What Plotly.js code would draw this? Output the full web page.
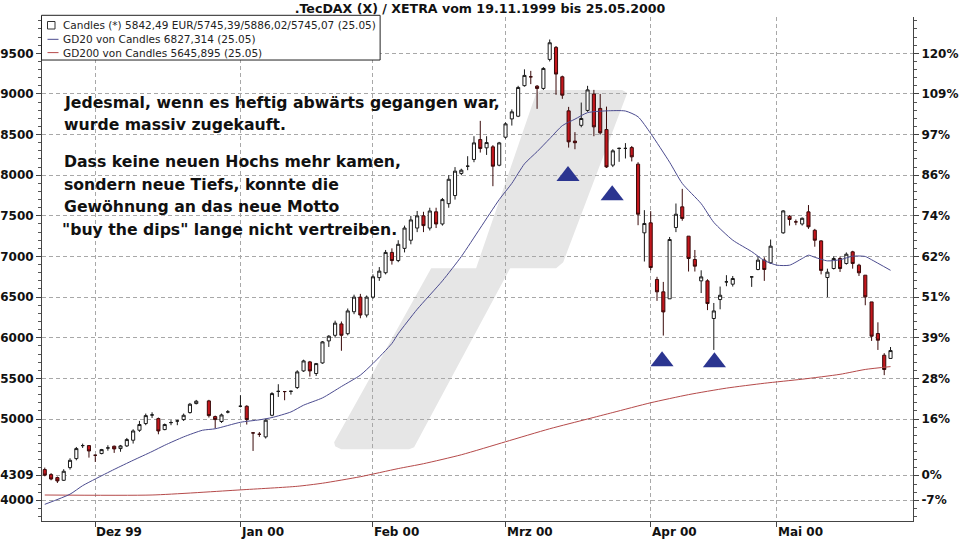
<!DOCTYPE html>
<html>
<head>
<meta charset="utf-8">
<script src="https://cdn.plot.ly/plotly-3.0.1.min.js"></script>
<style>html,body{margin:0;padding:0;background:#fff;}#chart{width:960px;height:540px;}</style>
</head>
<body>
<div id="chart"></div>
<script>
// ---- data (trading-day index 0 = 19.11.1999, weekdays only; null = no trading) ----
const openV = [4378,4316,4279,4246,4402,4513,4673,4673,4554,4575,4644,4665,4636,4669,4739,4862,4944,5050,5005,4870,4956,4976,4993,5079,5190,null,5223,5030,4969,5087,null,5157,5157,4829,4812,4780,5046,5340,5338,5341,5387,5592,5703,5560,5690,5961,
6030,6170,6050,6320,6500,6280,6500,6740,6800,7050,6950,7100,7200,7350,7500,7350,7550,7400,7650,7750,8022,8111,8194,8439,8337,8349,8123,8468,8693,8726,9102,9211,9096,9068,9425,9573,9211,8792,8420,8614,8797,9000,8822,8562,8124,8330,8330,8340,8136,7291,7414,6717,6565,6479,7357,7611,7250,6963,6700,6700,6237,6470,6688,6659,null,null,6749,6840,6955,6922,null,7291,7496,7426,7400,7549,7323,7192,6741,6852,6975,6914,7057,6893,6770,6441,6052,5785,5745.39];
const highV = [4402,4334,4292,4382,4517,4656,4697,4677,4560,4632,4677,4673,4681,4767,4874,4977,5067,5083,5018,4944,4985,4990,5067,5198,5235,null,5236,5042,5067,5110,null,5292,5169,4835,4840,5005,5330,5428,5345,5350,5600,5730,5715,5690,5960,6032,
6210,6200,6360,6530,6540,6520,6780,6870,7080,7100,7200,7380,7500,7560,7550,7600,7600,7720,8000,8100,8080,8234,8480,8669,8480,8370,8410,8650,8810,9100,9303,9284,9110,9330,9670,9590,9225,8841,8530,8894,9100,9050,9000,8844,8320,8340,8395,8360,8160,7570,7558,6750,6687,7240,7652,7832,7250,7080,6830,6720,6428,6630,6770,6760,null,null,6755,7000,6990,7209,null,7570,7510,7455,7480,7633,7340,7200,6850,7000,7000,7050,7070,6910,6770,6441,6190,5810,5886.02];
const lowV = [4295,4246,4213,4238,4378,4492,4644,4525,4472,4566,4610,4583,4597,4656,4698,4842,4924,5013,4812,4862,4924,4924,4976,5067,5180,null,5018,4883,4952,5070,null,5144,4932,4607,4780,4760,5034,5272,5231,5300,5370,5580,5522,5530,5680,5887,
6000,5840,6030,6290,6240,6250,6480,6700,6780,6900,6930,7050,7150,7300,7300,7320,7350,7380,7600,7700,8000,8062,8160,8279,8250,7865,8110,8450,8611,8715,9090,9121,8817,9050,9400,8989,8940,8340,8320,8590,8780,8480,8500,8090,8100,8165,8206,8170,7385,6938,6831,6454,6027,6479,7300,7440,6815,6815,6550,6340,5850,6350,6634,6630,null,null,6626,6830,6700,6910,null,7280,7380,7385,7380,7340,7120,6780,6500,6840,6810,6900,6850,6760,6400,5961,5850,5540,5745.07];
const closeV = [4309,4262,4238,4357,4492,4636,4673,4607,4554,4624,4644,4632,4669,4747,4853,4932,5042,5050,4853,4932,4956,4976,5046,5182,5219,null,5042,4993,5050,5087,null,5157,4993,4829,4812,4985,5313,5340,5338,5341,5580,5715,5592,5682,5949,6019,
6180,6030,6330,6500,6280,6500,6750,6820,7050,6950,7150,7350,7450,7500,7380,7560,7400,7700,7950,8050,8062,8111,8398,8329,8402,8111,8398,8632,8780,9080,9228,9211,9068,9314,9630,9245,8985,8411,8400,8698,9050,8595,8522,8102,8300,8330,8330,8226,7520,7406,6864,6565,6318,7209,7520,7468,6975,6881,6749,6421,6330,6523,6688,6729,null,null,6749,6955,6840,7127,null,7561,7455,7426,7470,7365,7200,6829,6807,6975,6852,7028,6914,6799,6503,6019,5970,5609,5842.49];

// GD20 / GD200 at selected trading-day indices
const gd20Idx = [0,4,6,8,11,14,17,19,22,25,27,31,34,36,39,41,44,47,50,52,55,56,59,63,66,69,72,74,76,78,80,82,84,86,89,92,94,96,99,101,104,106,109,112,114,116,118,120,121,122,124,126,128,130,131,134];
const gd20Val = [3950,4075,4180,4262,4380,4492,4600,4677,4780,4862,4880,4960,4990,5018,5087,5170,5260,5400,5540,5683,5930,6050,6350,6700,7000,7350,7700,7900,8140,8290,8450,8610,8690,8770,8792,8790,8719,8514,8160,7899,7650,7420,7201,7060,6950,6893,6893,6975,7016,6990,6946,6960,7004,7000,6960,6830];
const gd200Idx = [0,17,31,40,44,50,56,60,66,73,80,86,90,96,102,108,114,120,126,130,134];
const gd200Val = [4065,4065,4128,4172,4210,4290,4390,4450,4560,4720,4880,5000,5080,5200,5300,5380,5440,5490,5550,5610,5645];

// blue triangles (drawing marks)
const triIdx = [82.9, 89.9, 97.8, 106.1];
const triVal = [7990, 7755, 5711, 5699];

// axis ticks
const monthTickIdx = [8, 31, 52, 73, 96, 116];
const monthLabels = ['Dez 99','Jan 00','Feb 00','Mrz 00','Apr 00','Mai 00'];
const yTickVals = [9500,9000,8500,8000,7500,7000,6500,6000,5500,5000,4309,4000];
const yTickText = ['9500','9000','8500','8000','7500','7000','6500','6000','5500','5000','4309','4000'];
const pctText = ['120%','109%','97%','86%','74%','62%','51%','39%','28%','16%','0%','-7%'];

const titleText = '.TecDAX (X) / XETRA vom 19.11.1999 bis 25.05.2000';
const legendTexts = ['Candles (*) 5842,49 EUR/5745,39/5886,02/5745,07 (25.05)','GD20 von Candles 6827,314 (25.05)','GD200 von Candles 5645,895 (25.05)'];
const noteLines = ['Jedesmal, wenn es heftig abwärts gegangen war,','wurde massiv zugekauft.','Dass keine neuen Hochs mehr kamen,','sondern neue Tiefs, konnte die','Gewöhnung an das neue Motto','"buy the dips" lange nicht vertreiben.'];

// ---- build ----
const idx = [], o = [], h = [], l = [], c = [];
openV.forEach((v, i) => { if (v !== null) { idx.push(i); o.push(v); h.push(highV[i]); l.push(lowV[i]); c.push(closeV[i]); } });

const Lp = 42, Rp = 912.7, Tp = 17, Bp = 520.7;
const px = x => (x - Lp) / (Rp - Lp);
const py = y => (Bp - y) / (Bp - Tp);

const traces = [
  {type:'scatter', mode:'lines', x:gd200Idx, y:gd200Val, line:{color:'#b54a4a', width:1, shape:'spline', smoothing:0.6}, hoverinfo:'skip', showlegend:false},
  {type:'scatter', mode:'lines', x:gd20Idx, y:gd20Val, line:{color:'#4b4b8f', width:1, shape:'spline', smoothing:0.6}, hoverinfo:'skip', showlegend:false},
  {type:'candlestick', x:idx, open:o, high:h, low:l, close:c, whiskerwidth:0,
   increasing:{line:{color:'#1a1a1a', width:1}, fillcolor:'#ffffff'},
   decreasing:{line:{color:'#3a0a0a', width:1}, fillcolor:'#c4161c'}, showlegend:false, hoverinfo:'skip'},
  {type:'scatter', mode:'markers', x:triIdx, y:triVal, yaxis:'y2', marker:{symbol:'triangle-up', size:20, color:'#2b3590', line:{width:0}}, hoverinfo:'skip', showlegend:false}
];

const gridDash = '4px,3px';
const tickFont = {family:'DejaVu Sans, Verdana, sans-serif', size:12, weight:'bold', color:'#111'};

// gray band path in pixel coords -> paper (two slanted pieces joined at y≈268)
const band = [[341,449],[335,446],[334,442],[431,268],[476,268],[536,93],[541,90],[622,90],[627,93],[563,262],[556,268],[510,268],[414,447],[409,449]];
let bandPath = 'M ' + band.map(p => px(p[0]).toFixed(4) + ',' + py(p[1]).toFixed(4)).join(' L ') + ' Z';

const shapes = [
  {type:'path', xref:'paper', yref:'paper', path:bandPath, fillcolor:'#e6e6e6', line:{width:0}, layer:'below'},
  // legend box
  {type:'rect', xref:'paper', yref:'paper', x0:px(41.5), x1:px(380), y0:py(15.3), y1:py(60), fillcolor:'#ffffff', line:{color:'#222', width:1}, layer:'above'},
  {type:'rect', xref:'paper', yref:'paper', x0:px(47.5), x1:px(55), y0:py(21.5), y1:py(29), fillcolor:'#ffffff', line:{color:'#333', width:1}, layer:'above'},
  {type:'line', xref:'paper', yref:'paper', x0:px(47.5), x1:px(58.5), y0:py(39.3), y1:py(39.3), line:{color:'#4b4b8f', width:1}, layer:'above'},
  {type:'line', xref:'paper', yref:'paper', x0:px(47.5), x1:px(58.5), y0:py(52.6), y1:py(52.6), line:{color:'#b54a4a', width:1}, layer:'above'}
];

const annotations = [];
const legY = [25.3, 39.3, 52.6];
legendTexts.forEach((t, i) => annotations.push({xref:'paper', yref:'paper', x:px(61), y:py(legY[i]), xanchor:'left', yanchor:'middle', text:t, showarrow:false, font:{family:'DejaVu Sans, Verdana, sans-serif', size:10.5, color:'#222'}}));
const noteY = [102, 124, 161, 184, 206, 229];
const noteX = [62, 62, 62, 62, 62, 60];
noteLines.forEach((t, i) => annotations.push({xref:'paper', yref:'paper', x:px(noteX[i]), y:py(noteY[i]), xanchor:'left', yanchor:'middle', text:t, showarrow:false, font:{family:'DejaVu Sans, Verdana, sans-serif', size:15.7, weight:'bold', color:'#111'}}));
// month labels, left-aligned at their tick
monthLabels.forEach((t, i) => annotations.push({xref:'x', yref:'paper', x:monthTickIdx[i], y:py(532), xanchor:'left', yanchor:'middle', xshift:-1, text:t, showarrow:false, font:tickFont}));

const layout = {
  width:960, height:540,
  margin:{l:Lp, r:960-Rp, t:Tp, b:540-Bp, pad:0},
  paper_bgcolor:'#ffffff', plot_bgcolor:'#ffffff',
  showlegend:false,
  title:{text:titleText, x:0.5, xanchor:'center', y:1-8.3/540, yanchor:'middle', yref:'container', font:{family:'DejaVu Sans, Verdana, sans-serif', size:12.6, weight:'bold', color:'#111'}},
  xaxis:{type:'linear', range:[-0.44, 137.56], tickmode:'array', tickvals:monthTickIdx, ticktext:monthLabels, showticklabels:false,
    ticks:'outside', ticklen:5, tickcolor:'#444', showline:true, linecolor:'#444', linewidth:1,
    showgrid:true, gridcolor:'#a8a8a8', griddash:gridDash, gridwidth:1, zeroline:false,
    rangeslider:{visible:false}, fixedrange:true},
  yaxis:{range:[3745, 9947], tickmode:'array', tickvals:yTickVals, ticktext:yTickText,
    ticks:'outside', ticklen:5, tickcolor:'#444', showline:true, linecolor:'#444', linewidth:1,
    showgrid:true, gridcolor:'#a8a8a8', griddash:gridDash, gridwidth:1, zeroline:false, tickfont:tickFont,
    minor:{tickmode:'linear', tick0:0, dtick:100, ticks:'outside', ticklen:3, tickcolor:'#555', showgrid:false}},
  yaxis2:{overlaying:'y', matches:'y', side:'right', range:[3745, 9947], tickmode:'array', tickvals:yTickVals, ticktext:pctText,
    ticks:'outside', ticklen:5, tickcolor:'#444', showline:true, linecolor:'#444', linewidth:1,
    showgrid:false, zeroline:false, tickfont:tickFont,
    minor:{tickmode:'linear', tick0:0, dtick:100, ticks:'outside', ticklen:3, tickcolor:'#555', showgrid:false}},
  shapes:shapes, annotations:annotations
};

Plotly.newPlot('chart', traces, layout, {staticPlot:true, displayModeBar:false});
</script>
</body>
</html>
